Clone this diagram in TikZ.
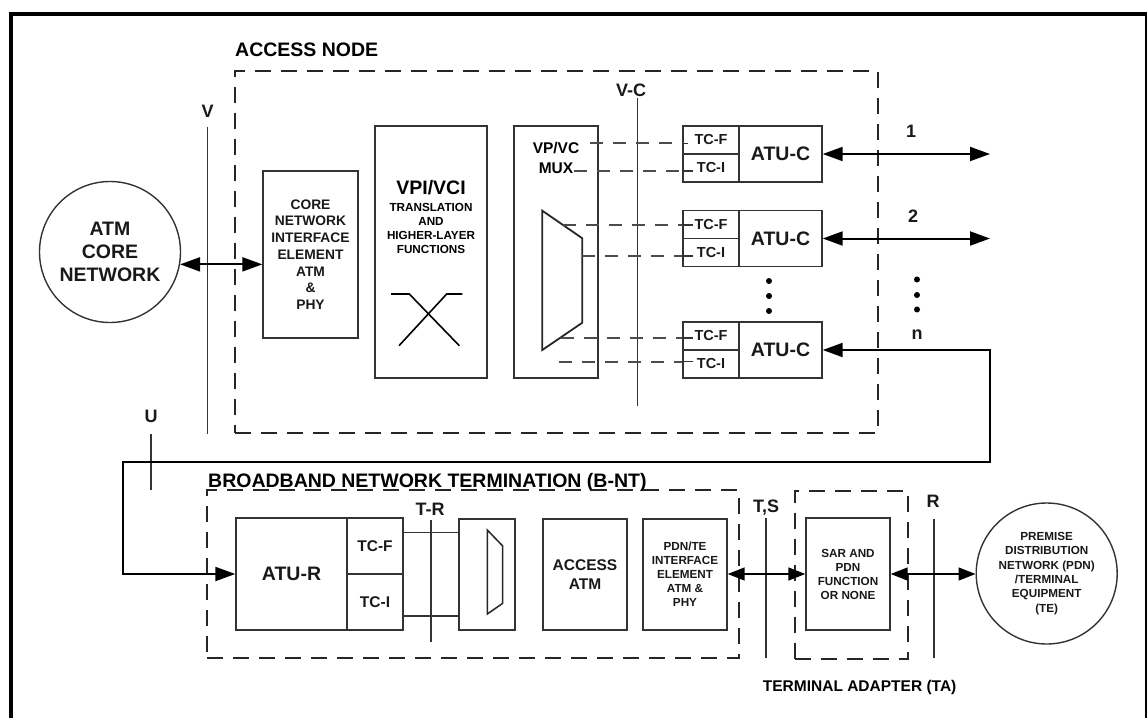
\documentclass[tikz,border=0pt]{standalone}
\usepackage{fontspec}
\setmainfont{Liberation Sans}
\usetikzlibrary{arrows.meta,calc}
\newcommand\FBig{\fontsize{19.5}{23}\selectfont\bfseries}
\newcommand\FMid{\fontsize{15.5}{19.4}\selectfont\bfseries}
\newcommand\FTc{\fontsize{14.5}{17}\selectfont\bfseries}
\newcommand\FCn{\fontsize{13.8}{16.7}\selectfont\bfseries}
\newcommand\FSm{\fontsize{11.7}{14}\selectfont\bfseries}
\newcommand\FSmb{\fontsize{11.7}{14.4}\selectfont\bfseries}
\newcommand\FLab{\fontsize{18}{21}\selectfont\bfseries}
\begin{document}
\begin{tikzpicture}[x=1pt,y=-1pt,
  box/.style={draw=black!80, line width=1.4pt, inner sep=0pt, align=center, text=black!90},
  circ/.style={draw=black!80, circle, line width=1.4pt, inner sep=0pt, align=center, text=black!90},
  dashbox/.style={draw=black!85, line width=2pt, dash pattern=on 16pt off 10pt, inner sep=0pt},
  dline/.style={draw=black!70, line width=1.8pt, dash pattern=on 13pt off 10pt},
  refline/.style={draw=black!80, line width=1.5pt},
  lab/.style={inner sep=0pt, font=\FLab, text=black!90},
  conn/.style={draw=black, line width=2pt, {Triangle[length=20pt,width=14pt]}-{Triangle[length=20pt,width=14pt]}},
  sconn/.style={draw=black, line width=1.6pt, {Triangle[length=17pt,width=13pt]}-{Triangle[length=17pt,width=13pt]}},
  trap/.style={draw=black!85, line width=1.8pt},
  dot/.style={fill=black, circle, inner sep=0pt, minimum size=6pt}
]
\useasboundingbox (0,0) rectangle (1147,717);
\clip (0,0) rectangle (1147,717);
% outer frame
\draw[line width=4pt] (11,14) rectangle (1147,740);

% ---------------- ACCESS NODE ----------------
\node[anchor=west, inner sep=0pt, font=\FBig] (anlbl) at (235,50) {ACCESS NODE};
\node[dashbox, minimum width=643pt, minimum height=362pt] (an) at (556.5,252) {};

\node[circ, minimum size=141pt, font=\FBig] (atm) at (110,252) {ATM\\CORE\\NETWORK};
\node[box, minimum width=95pt, minimum height=167pt, font=\FCn] (cnie) at (310.5,254.5)
  {CORE\\NETWORK\\INTERFACE\\ELEMENT\\ATM\\\&\\PHY};

\node[lab] (lblV) at (207.7,111.7) {V};
\draw[refline] (207.7,127) -- (207.7,434);

\node[box, minimum width=112pt, minimum height=252pt] (vpi) at (431,252) {};
\node[inner sep=0pt, font=\FBig] (vpit) at (431,187.3) {VPI/VCI};
\node[inner sep=0pt, font=\FSm, align=center] (vpis) at (431,228.2)
  {TRANSLATION\\AND\\HIGHER-LAYER\\FUNCTIONS};
\draw[line width=1.6pt] (391,294) -- (409.3,294) -- (459.3,345.7);
\draw[line width=1.6pt] (462.3,294) -- (446.7,294) -- (399,345.7);

\node[box, minimum width=84pt, minimum height=252pt] (mux) at (556,252) {};
\node[inner sep=0pt, font=\FMid, align=center] (muxt) at (556,158) {VP/VC\\MUX};
\draw[trap] (542.3,210.7) -- (582.3,238.3) -- (582.3,322.7) -- (542.3,350) -- cycle;

\node[lab] (lblVC) at (631,90) {V-C};
\draw[refline] (637.7,98) -- (637.7,406);

% ATU-C boxes
\foreach \i/\yc in {1/154, 2/238.5, 3/350}{
  \node[box, minimum width=83pt, minimum height=56pt, font=\FBig] (atuc\i) at (780.5,\yc) {ATU-C};
  \node[box, minimum width=56pt, minimum height=28pt, font=\FTc] (tcf\i) at (711,\yc-14) {TC-F};
  \node[box, minimum width=56pt, minimum height=28pt, font=\FTc] (tci\i) at (711,\yc+14) {TC-I};
}

% dashed mux links
\coordinate (m1) at (590,143.3);
\coordinate (m2) at (574,171);
\coordinate (m3) at (563.3,225);
\coordinate (m4) at (582.3,256);
\coordinate (m5) at (560.5,338);
\coordinate (m6) at (559.3,361.7);
\draw[dline] (m1) -- (tcf1.west |- m1);
\draw[dline] (m2) -- (tci1.west |- m2);
\draw[dline] (m3) -- (tcf2.west |- m3);
\draw[dline] (m4) -- (tci2.west |- m4);
\draw[dline] (m5) -- (tcf3.west |- m5);
\draw[dline] (m6) -- (tci3.west |- m6);
\draw[line width=1.3pt, black!80] (tcf1.west |- m1) -- ++(6,0);
\draw[line width=1.3pt, black!80] (tci1.west |- m2) -- ++(11,0);
\draw[line width=1.3pt, black!80] (tcf2.west |- m3) -- ++(11,0);
\draw[line width=1.3pt, black!80] (tci2.west |- m4) -- ++(11,0);
\draw[line width=1.3pt, black!80] (tcf3.west |- m5) -- ++(11,0);
\draw[line width=1.3pt, black!80] (tci3.west |- m6) -- ++(11,0);

% dots
\node[dot] (d1) at (769,281) {};
\node[dot] (d2) at (769,296) {};
\node[dot] (d3) at (769,311) {};
\node[dot] (e1) at (917,279.5) {};
\node[dot] (e2) at (917,295) {};
\node[dot] (e3) at (917,309.5) {};

% right side lines
\coordinate (o1) at (990,154);
\coordinate (o2) at (990,238.5);
\draw[conn] (atuc1.east) -- (o1);
\draw[conn] (atuc2.east) -- (o2);
\node[lab] (l1) at (911,131.7) {1};
\node[lab] (l2) at (913,216) {2};
\node[lab, anchor=base] (ln) at (917,339) {n};

\draw[conn] (atm.-10) -- (cnie.west |- atm.-10);

% ---------------- B-NT ----------------
\node[lab] (lblU) at (151,416.7) {U};
\draw[refline] (151,434) -- (151,490);

\node[anchor=base west, inner sep=0pt, font=\FBig] (bntlbl) at (208,487.5) {BROADBAND NETWORK TERMINATION (B-NT)};
\node[dashbox, minimum width=532pt, minimum height=168pt] (bnt) at (473,574) {};

\node[box, minimum width=111pt, minimum height=112pt, font=\FBig] (atur) at (291.5,574) {ATU-R};
\node[box, minimum width=56pt, minimum height=56pt, font=\FMid] (tcfr) at (375,546) {TC-F};
\node[box, minimum width=56pt, minimum height=56pt, font=\FMid] (tcir) at (375,602) {TC-I};

\node[box, minimum width=56pt, minimum height=111pt] (smux) at (487,574.5) {};
\draw[trap, line width=1.5pt] (487.3,530) -- (502.7,546) -- (502.7,603.3) -- (487.3,614) -- cycle;
\coordinate (k1) at (0,532.7);
\coordinate (k2) at (0,616);
\draw[line width=1.3pt, black!80] (tcfr.east |- k1) -- (smux.west |- k1);
\draw[line width=1.3pt, black!80] (tcir.east |- k2) -- (smux.west |- k2);

\node[lab] (lblTR) at (430,509) {T-R};
\draw[refline] (431,520) -- (431,642);

\node[box, minimum width=84pt, minimum height=111pt, font=\FMid] (acc) at (585,574.5) {ACCESS\\ATM};
\node[box, minimum width=84pt, minimum height=111pt, font=\FSm] (pdnte) at (685,574.5)
  {PDN/TE\\INTERFACE\\ELEMENT\\ATM \&\\PHY};

% U path
\coordinate (ur) at (990,462);
\coordinate (ul) at (123,462);
\draw[conn] (atuc3.east) -| (ur) -- (ul) |- (atur.west);

% ---------------- TA ----------------
\node[lab, anchor=base] (lblTS) at (766,512) {T,S};
\draw[refline] (766,518) -- (766,658);
\node[dashbox, minimum width=113pt, minimum height=168pt] (ta) at (851,575) {};
\node[box, minimum width=84pt, minimum height=112pt, font=\FSm] (sar) at (848,574)
  {SAR AND\\PDN\\FUNCTION\\OR NONE};
\node[lab] (lblR) at (933,501) {R};
\draw[refline] (934,519) -- (934,658);
\node[circ, minimum size=141pt, font=\FSmb] (pdn) at (1046.7,573.5)
  {PREMISE\\DISTRIBUTION\\NETWORK (PDN)\\/TERMINAL\\EQUIPMENT\\(TE)};
\node[anchor=base west, inner sep=0pt, font=\FMid] (talbl) at (762.7,691.6) {TERMINAL ADAPTER (TA)};

\draw[sconn] (pdnte.east |- sar.west) -- (sar.west);
\draw[sconn] (sar.east) -- (pdn.west |- sar.east);
\end{tikzpicture}
\end{document}
